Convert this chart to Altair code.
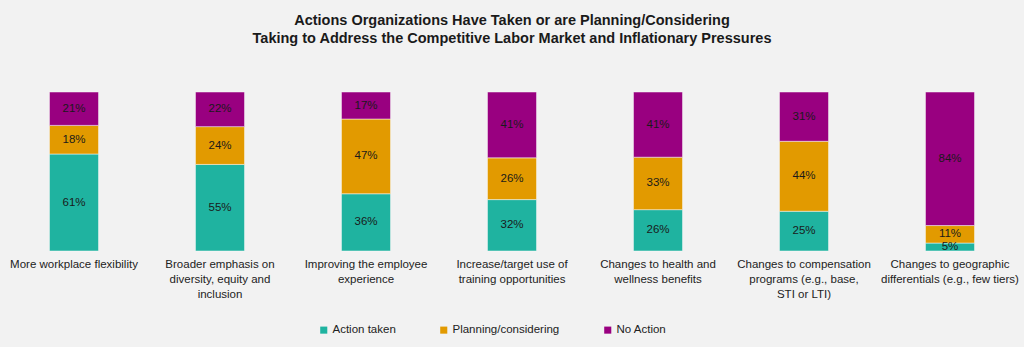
import altair as alt
import pandas as pd

categories = [
    "More workplace flexibility",
    "Broader emphasis on|diversity, equity and|inclusion",
    "Improving the employee|experience",
    "Increase/target use of|training opportunities",
    "Changes to health and|wellness benefits",
    "Changes to compensation|programs (e.g., base,|STI or LTI)",
    "Changes to geographic|differentials (e.g., few tiers)",
]
series = ["Action taken", "Planning/considering", "No Action"]
action_taken = [61, 55, 36, 32, 26, 25, 5]
planning = [18, 24, 47, 26, 33, 44, 11]
no_action = [21, 22, 17, 41, 41, 31, 84]
colors = ["#1fb3a0", "#e29a00", "#990080"]

rows = []
for i, c in enumerate(categories):
    for s, vals in zip(series, [action_taken, planning, no_action]):
        rows.append({"cat": c, "series": s, "value": vals[i], "order": series.index(s)})
df = pd.DataFrame(rows)

FONT = "Liberation Sans"

base = alt.Chart(df).transform_joinaggregate(
    total="sum(value)", groupby=["cat"]
).transform_calculate(
    pct="datum.value / datum.total"
).transform_stack(
    stack="pct", groupby=["cat"], as_=["y0", "y1"], sort=[alt.SortField("order", "ascending")]
).transform_calculate(
    mid="(datum.y0 + datum.y1) / 2",
    lbl="datum.value + '%'"
)

xenc = alt.X(
    "cat:N", sort=categories, title=None,
    scale=alt.Scale(paddingInner=0.664, paddingOuter=0.332),
    axis=alt.Axis(
        labelExpr="split(datum.label, '|')", labelAngle=0, domain=False, ticks=False,
        labelFont=FONT, labelFontSize=11.5, labelColor="#222222", labelPadding=7,
        labelLineHeight=15, labelBaseline="top", labelLimit=300,
    ),
)
yscale = alt.Scale(domain=[0, 1])

bars = base.mark_bar(stroke="#f8f8f8", strokeWidth=0.5).encode(
    x=xenc,
    y=alt.Y("y0:Q", scale=yscale, axis=None),
    y2="y1:Q",
    color=alt.Color(
        "series:N", sort=series,
        scale=alt.Scale(domain=series, range=colors),
        legend=alt.Legend(
            title=None, orient="none", direction="horizontal", legendX=317, legendY=232,
            symbolType="square", symbolSize=50, symbolStrokeWidth=0,
            labelFont=FONT, labelFontSize=11.5, labelColor="#222222",
            columnPadding=42, labelOffset=3,
        ),
    ),
)

text = base.mark_text(font=FONT, fontSize=11.5, color="#1a1a1a").encode(
    x=alt.X("cat:N", sort=categories),
    y=alt.Y("mid:Q", scale=yscale),
    text="lbl:N",
)

chart = alt.layer(bars, text).properties(
    width=1022, height=159,
    autosize=alt.AutoSizeParams(type="none"),
    padding={"left": 1, "right": 1, "top": 92, "bottom": 96},
    background="#f2f2f2",
    title=alt.TitleParams(
        ["Actions Organizations Have Taken or are Planning/Considering",
         "Taking to Address the Competitive Labor Market and Inflationary Pressures"],
        anchor="middle", font=FONT, fontSize=14.5, fontWeight="bold", color="#1a1a1a",
        offset=45, lineHeight=18,
    ),
).configure_view(stroke=None)

chart.save("out.html", embed_options={"renderer": "svg", "actions": False})
